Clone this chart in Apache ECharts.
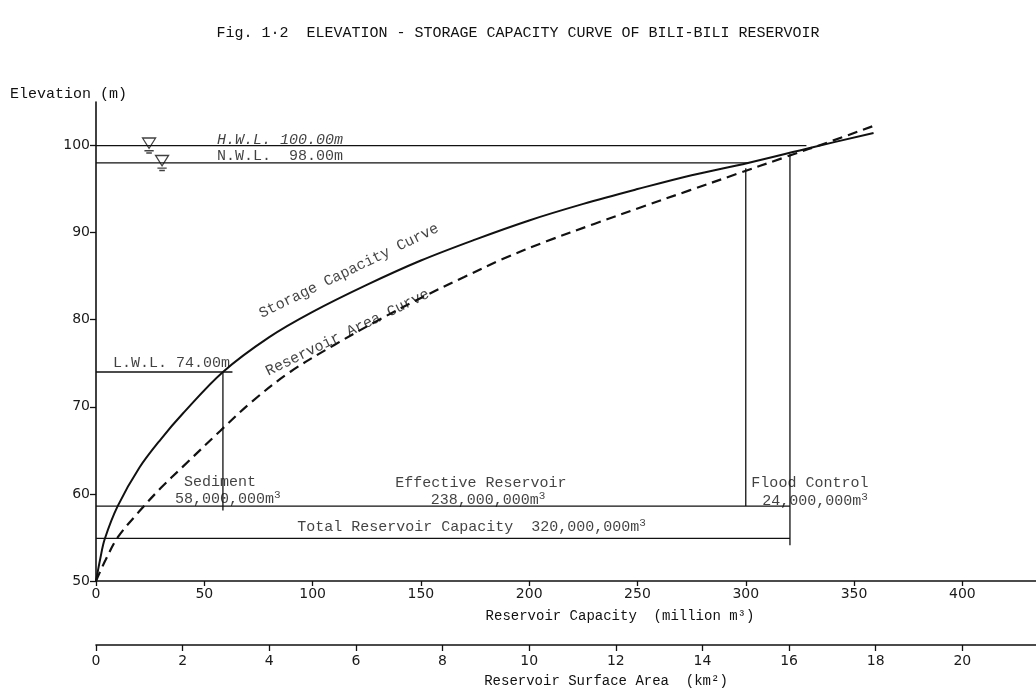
<!DOCTYPE html>
<html>
<head>
<meta charset="utf-8">
<script src="https://cdn.jsdelivr.net/npm/echarts@6/dist/echarts.min.js"></script>
<style>html,body{margin:0;padding:0;background:#fff}#c{width:1036px;height:691px}</style>
</head>
<body>
<div id="c"></div>
<script>
// ---- tick labels ----
const elevationTicks = [50, 60, 70, 80, 90, 100];
const capacityTicks = [0, 50, 100, 150, 200, 250, 300, 350, 400];
const areaTicks = [0, 2, 4, 6, 8, 10, 12, 14, 16, 18, 20];

// ---- curves: [storage capacity (million m3), elevation (m)] ----
const storageCurve = [
  [0, 50], [2, 52.6], [4, 54.8], [10, 58.6], [20, 63.0], [30, 66.3],
  [40, 69.2], [58.6, 74.0], [80, 78.0], [100, 80.9], [125, 84.0],
  [150, 86.8], [175, 89.2], [200, 91.4], [225, 93.3], [250, 95.0],
  [275, 96.6], [301, 98.0], [330, 99.75], [359, 101.45]
];
// ---- [reservoir surface area (km2), elevation (m)] ----
const areaCurve = [
  [0, 50], [0.22, 52.4], [0.5, 55.0], [1.0, 58.0], [1.5, 60.7], [2.0, 63.1],
  [2.86, 67.2], [3.6, 70.6], [4.48, 74.0], [5.5, 77.1], [6.5, 79.9],
  [7.5, 82.5], [8.5, 84.9], [9.4, 87.0], [10.4, 89.0], [11.5, 91.0],
  [12.6, 92.95], [13.7, 94.85], [14.8, 96.75], [15.9, 98.65], [17.0, 100.55],
  [17.92, 102.2]
];

// ---- reference lines: [capacity, elevation] ----
const hwlLine = [[0, 100], [328, 100]];
const nwlLine = [[0, 98], [301, 98]];
const lwlLine = [[0, 74], [63, 74]];
const sedimentDivider = [[58.6, 74], [58.6, 58.1]];
const nwlDivider = [[300, 97.4], [300, 58.6]];
const hwlDivider = [[320.4, 99.0], [320.4, 54.1]];
const volumeLine = [[0, 58.6], [320.4, 58.6]];
const totalLine = [[0, 54.9], [320.4, 54.9]];
const waterMarks = [[24.5, 100], [30.5, 98]];

// ---- annotation texts: [capacity, elevation] anchor ----
const annotationTexts = [
  {text: 'H.W.L. 100.00m', at: [55.9, 100.6], align: 'left', italic: true},
  {text: 'N.W.L.  98.00m', at: [55.9, 98.8], align: 'left'},
  {text: 'L.W.L. 74.00m', at: [7.8, 75.0], align: 'left'},
  {text: 'Sediment', at: [57.3, 61.4]},
  {text: '58,000,000m{s|3}', at: [60.9, 59.4]},
  {text: 'Effective Reservoir', at: [177.7, 61.25]},
  {text: '238,000,000m{s|3}', at: [181, 59.3]},
  {text: 'Flood Control', at: [329.6, 61.25]},
  {text: '24,000,000m{s|3}', at: [332, 59.2]},
  {text: 'Total Reservoir Capacity  320,000,000m{s|3}', at: [173.4, 56.2]},
  {text: 'Storage Capacity Curve', at: [116.8, 85.6], rotate: 26},
  {text: 'Reservoir Area Curve', at: [116.1, 78.5], rotate: 26}
];

const INK = '#111111';
const MONO = '"Liberation Mono", "DejaVu Sans Mono", monospace';
const SANS = '"DejaVu Sans", sans-serif';

function refLine(data) {
  return {
    type: 'line', data: data, xAxisIndex: 0, yAxisIndex: 0,
    symbol: 'none', silent: true, animation: false,
    lineStyle: {color: INK, width: 1.3}
  };
}

const chart = echarts.init(document.getElementById('c'), null, {renderer: 'canvas'});

const axisCommon = {
  type: 'value',
  axisLine: {show: true, onZero: false, lineStyle: {color: INK, width: 1.6}},
  splitLine: {show: false},
  axisLabel: {color: '#1a1a1a', fontFamily: SANS, fontSize: 14},
  axisTick: {show: true, length: 5, lineStyle: {color: INK, width: 1.3}}
};

chart.setOption({
  backgroundColor: '#ffffff',
  animation: false,
  title: {
    text: 'Fig. 1·2  ELEVATION - STORAGE CAPACITY CURVE OF BILI-BILI RESERVOIR',
    left: 'center', top: 21,
    textStyle: {fontFamily: MONO, fontSize: 15, fontWeight: 'normal', color: INK}
  },
  grid: {left: 96, right: 0, top: 102, bottom: 110, containLabel: false},
  xAxis: [
    Object.assign({}, axisCommon, {
      min: 0, max: 434, position: 'bottom', offset: 0,
      axisTick: Object.assign({}, axisCommon.axisTick, {customValues: capacityTicks}),
      axisLabel: Object.assign({}, axisCommon.axisLabel, {customValues: capacityTicks, margin: 6})
    }),
    Object.assign({}, axisCommon, {
      min: 0, max: 21.7, position: 'bottom', offset: 64,
      axisTick: Object.assign({}, axisCommon.axisTick, {customValues: areaTicks, length: 6}),
      axisLabel: Object.assign({}, axisCommon.axisLabel, {customValues: areaTicks, margin: 9})
    })
  ],
  yAxis: [
    Object.assign({}, axisCommon, {
      min: 50, max: 105, position: 'left',
      axisTick: Object.assign({}, axisCommon.axisTick, {customValues: elevationTicks, length: 6}),
      axisLabel: Object.assign({}, axisCommon.axisLabel, {customValues: elevationTicks, margin: 6})
    })
  ],
  graphic: [
    {type: 'text', x: 10, y: 94, silent: true,
     style: {text: 'Elevation (m)', font: '15px ' + MONO, fill: INK, align: 'left', verticalAlign: 'middle'}},
    {type: 'text', x: 620, y: 616, silent: true,
     style: {text: 'Reservoir Capacity  (million m³)', font: '14px ' + MONO, fill: INK, align: 'center', verticalAlign: 'middle'}},
    {type: 'text', x: 606, y: 681, silent: true,
     style: {text: 'Reservoir Surface Area  (km²)', font: '14px ' + MONO, fill: INK, align: 'center', verticalAlign: 'middle'}}
  ],
  series: [
    {
      name: 'Storage Capacity Curve', type: 'line', data: storageCurve,
      xAxisIndex: 0, yAxisIndex: 0, smooth: 0.35, showSymbol: false, symbol: 'none',
      lineStyle: {color: INK, width: 2}
    },
    {
      name: 'Reservoir Area Curve', type: 'line', data: areaCurve,
      xAxisIndex: 1, yAxisIndex: 0, smooth: 0.35, showSymbol: false, symbol: 'none',
      lineStyle: {color: INK, width: 2.2, type: [10, 6]}
    },
    refLine(hwlLine), refLine(nwlLine), refLine(lwlLine),
    refLine(sedimentDivider), refLine(nwlDivider), refLine(hwlDivider),
    refLine(volumeLine), refLine(totalLine),
    {
      type: 'scatter', xAxisIndex: 0, yAxisIndex: 0, silent: true,
      data: waterMarks,
      symbol: 'path://M0,0L14,0L7,9Z M2,11L12,11 M4,13L10,13',
      symbolSize: [13, 15],
      itemStyle: {color: 'transparent', borderColor: INK, borderWidth: 1.3}
    },
    {
      type: 'scatter', xAxisIndex: 0, yAxisIndex: 0, silent: true,
      symbolSize: 0.1,
      itemStyle: {color: 'transparent'},
      data: annotationTexts.map(function (a) {
        return {
          value: a.at,
          label: {
            show: true, position: 'inside',
            formatter: a.text,
            align: a.align || 'center', verticalAlign: 'middle',
            rotate: a.rotate || 0,
            fontStyle: a.italic ? 'italic' : 'normal',
            fontFamily: MONO, fontSize: 15, color: INK,
            rich: {s: {fontFamily: MONO, fontSize: 11, color: INK, verticalAlign: 'top', padding: [0, 0, 8, 0]}}
          }
        };
      })
    }
  ]
});
</script>
</body>
</html>
